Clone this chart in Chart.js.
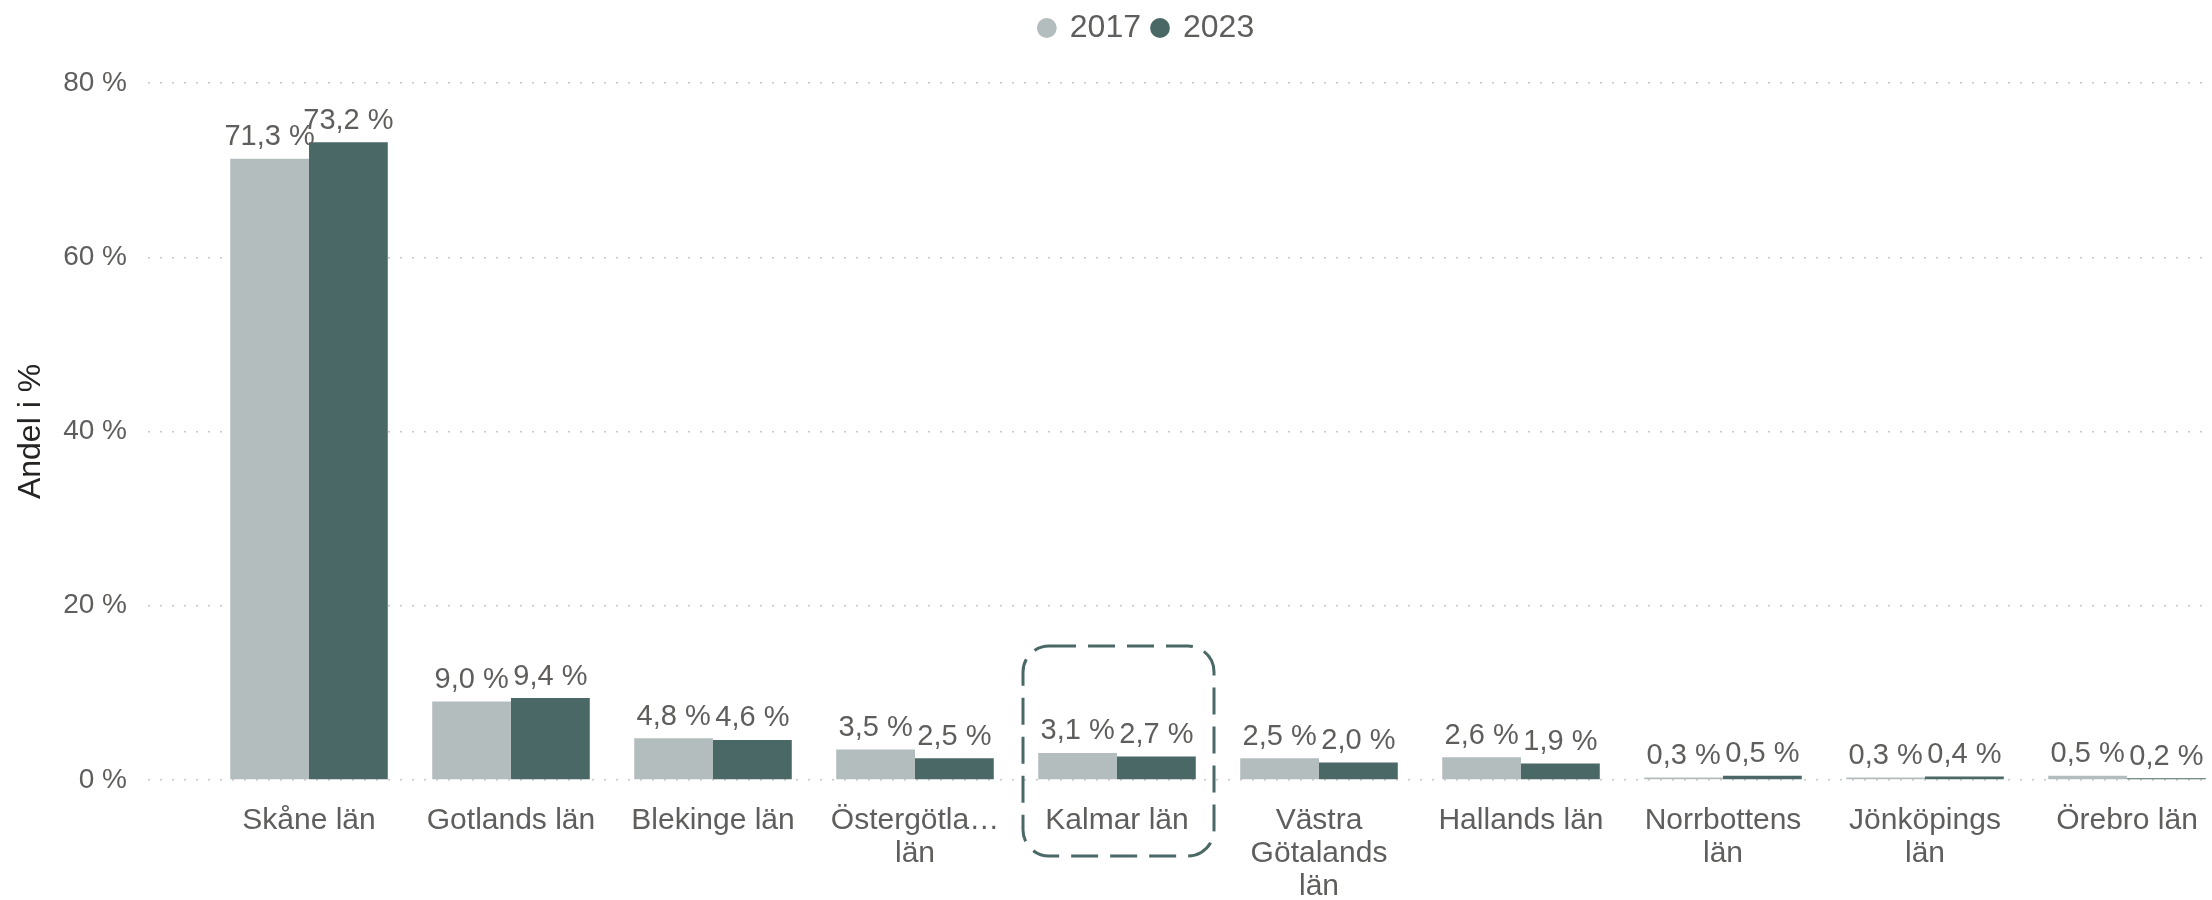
<!DOCTYPE html>
<html>
<head>
<meta charset="utf-8">
<style>
  html, body { margin: 0; padding: 0; background: #ffffff; overflow: hidden; }
  #wrap { width: 2228px; height: 900px; }
</style>
</head>
<body>
<div id="wrap"><canvas id="lanChart"></canvas></div>
<script src="https://cdn.jsdelivr.net/npm/chart.js"></script>
<script>
    // Data
    const categories = ['Skåne län', 'Gotlands län', 'Blekinge län', 'Östergötlands län', 'Kalmar län',
        'Västra Götalands län', 'Hallands län', 'Norrbottens län', 'Jönköpings län', 'Örebro län'];
    const tickLabels = ['Skåne län', 'Gotlands län', 'Blekinge län', ['Östergötla…', 'län'], 'Kalmar län',
        ['Västra', 'Götalands', 'län'], 'Hallands län', ['Norrbottens', 'län'], ['Jönköpings', 'län'], 'Örebro län'];
    const seriesNames = ['2017', '2023'];
    const values2017 = [71.3, 9.0, 4.8, 3.5, 3.1, 2.5, 2.6, 0.3, 0.3, 0.5];
    const values2023 = [73.2, 9.4, 4.6, 2.5, 2.7, 2.0, 1.9, 0.5, 0.4, 0.2];
    const yMax = 80;
    const yStep = 20;
    const highlighted = 'Kalmar län';

    const lightColor = '#b3bdbe';
    const darkColor = '#4a6966';
    const textGrey = '#605e5c';
    const fontFamily = '"Liberation Sans", Arial, sans-serif';

    const pct = v => v.toFixed(1).replace('.', ',') + ' %';

    // value labels above every bar
    const barLabels = {
        id: 'barLabels',
        afterDatasetsDraw(chart) {
            const ctx = chart.ctx;
            ctx.save();
            ctx.font = '29px ' + fontFamily;
            ctx.fillStyle = textGrey;
            ctx.textAlign = 'center';
            ctx.textBaseline = 'bottom';
            chart.data.datasets.forEach((ds, di) => {
                chart.getDatasetMeta(di).data.forEach((bar, i) => {
                    ctx.fillText(pct(ds.data[i]), bar.x, bar.y - 7);
                });
            });
            ctx.restore();
        }
    };

    // dashed rounded frame round the highlighted region
    const highlightBox = {
        id: 'highlightBox',
        afterDraw(chart) {
            const idx = categories.indexOf(highlighted);
            if (idx < 0) return;
            const x = chart.scales.x, y = chart.scales.y;
            const cx = x.getPixelForValue(idx);
            const base = y.getPixelForValue(0);
            const ctx = chart.ctx;
            ctx.save();
            ctx.strokeStyle = darkColor;
            ctx.lineWidth = 3;
            ctx.setLineDash([27, 12]);
            ctx.beginPath();
            ctx.roundRect(cx - 94, base - 134, 191, 210, 26);
            ctx.stroke();
            ctx.restore();
        }
    };

    // legend: extra room below it and nudge it to the right
    const legendTweak = {
        id: 'legendTweak',
        afterInit(chart) {
            const fit = chart.legend.fit;
            chart.legend.fit = function () {
                fit.call(this);
                this.height += 29;
            };
        },
        afterLayout(chart) {
            chart.legend.left += 33;
            chart.legend.right += 33;
        }
    };

    const ctx = document.getElementById('lanChart').getContext('2d');
    new Chart(ctx, {
        type: 'bar',
        data: {
            labels: categories,
            datasets: [
                { label: seriesNames[0], data: values2017, backgroundColor: lightColor },
                { label: seriesNames[1], data: values2023, backgroundColor: darkColor }
            ]
        },
        options: {
            responsive: true,
            maintainAspectRatio: false,
            animation: false,
            datasets: {
                bar: { categoryPercentage: 0.78, barPercentage: 1.0, borderWidth: 0 }
            },
            scales: {
                x: {
                    grid: { display: false },
                    border: { display: false },
                    ticks: {
                        autoSkip: false,
                        maxRotation: 0,
                        padding: 16,
                        color: textGrey,
                        font: { family: fontFamily, size: 30, lineHeight: 1.1 },
                        callback: (v, i) => tickLabels[i]
                    },
                    afterFit: scale => { scale.height = 120; }
                },
                y: {
                    min: 0,
                    max: yMax,
                    grid: {
                        color: '#c8c8c8',
                        lineWidth: 1.5,
                        borderDash: [2, 10],
                        tickLength: 60,
                        tickColor: '#c8c8c8',
                        tickBorderDash: [2, 10]
                    },
                    border: { display: false, dash: [2, 10] },
                    ticks: {
                        stepSize: yStep,
                        padding: 21,
                        color: textGrey,
                        font: { family: fontFamily, size: 28 },
                        callback: v => v + ' %'
                    },
                    title: {
                        display: true,
                        text: 'Andel i %',
                        color: '#252423',
                        font: { family: fontFamily, size: 32 },
                        padding: { top: 12, bottom: 0 }
                    },
                    afterFit: scale => { scale.width = 208; }
                }
            },
            plugins: {
                legend: {
                    position: 'top',
                    labels: {
                        usePointStyle: true,
                        pointStyle: 'circle',
                        boxWidth: 14,
                        boxHeight: 14,
                        padding: 12,
                        color: textGrey,
                        font: { family: fontFamily, size: 32 }
                    }
                },
                tooltip: { enabled: false }
            }
        },
        plugins: [barLabels, highlightBox, legendTweak]
    });
</script>
</body>
</html>
